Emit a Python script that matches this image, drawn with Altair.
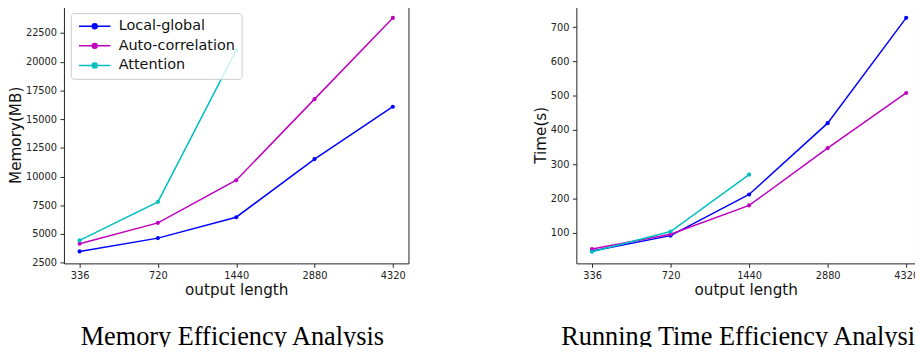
import altair as alt
import pandas as pd

lengths = ["336", "720", "1440", "2880", "4320"]
series = ["Local-global", "Auto-correlation", "Attention"]
colors = ["#0000ff", "#bf00bf", "#00bfbf"]

mem_local = [3480, 4640, 6460, 11520, 16080]
mem_auto = [4150, 5970, 9680, 16740, 23810]
mem_attn = [4450, 7800, 21000]

time_local = [47, 92, 212, 420, 727]
time_auto = [53, 96, 180, 347, 508]
time_attn = [45, 104, 270]

mem_ticks = [2500, 5000, 7500, 10000, 12500, 15000, 17500, 20000, 22500]
time_ticks = [100, 200, 300, 400, 500, 600, 700]


def frame(vals_list):
    rows = []
    for name, vals in zip(series, vals_list):
        for i, v in enumerate(vals):
            rows.append({"series": name, "idx": i, "value": v})
    return pd.DataFrame(rows)


label_expr = "[" + ",".join(f"'{l}'" for l in lengths) + "][datum.value]"
legend_symbol = "M-1,0H5.4M2.7,0A0.5,0.5,0,1,1,1.7,0A0.5,0.5,0,1,1,2.7,0Z"


def panel(df, ytitle, ydomain, yticks, xdomain, width, title, anchor, dx):
    color = alt.Color(
        "series:N",
        scale=alt.Scale(domain=series, range=colors),
        legend=alt.Legend(
            title=None, orient="none", legendX=7, legendY=7,
            symbolType=legend_symbol,
            symbolSize=100, symbolStrokeWidth=1.5,
            labelFontSize=14.7, labelFont="DejaVu Sans", labelColor="#111",
            labelOffset=28,
            fillColor="rgba(255,255,255,0.8)", strokeColor="#cccccc",
            padding=6, rowPadding=4, cornerRadius=3,
        ),
    )
    base = alt.Chart(df).encode(
        x=alt.X("idx:Q",
                scale=alt.Scale(domain=xdomain, nice=False, zero=False),
                axis=alt.Axis(values=[0, 1, 2, 3, 4], labelExpr=label_expr,
                              title="output length")),
        y=alt.Y("value:Q",
                scale=alt.Scale(domain=ydomain, nice=False, zero=False),
                axis=alt.Axis(values=yticks, title=ytitle, format="d")),
        color=color,
        order="idx:Q",
    )
    lines = base.mark_line(strokeWidth=1.5)
    pts = base.mark_circle(size=18, opacity=1)
    return alt.layer(lines, pts).properties(
        width=width, height=262,
        title=alt.TitleParams(title, orient="bottom", anchor=anchor, frame="group",
                              font="Liberation Serif", fontSize=26.8,
                              fontWeight="normal", color="#000", offset=27, dx=dx),
    )


left = panel(frame([mem_local, mem_auto, mem_attn]), "Memory(MB)",
             [2440, 24830], mem_ticks, [-0.2, 4.2], 351,
             "Memory Efficiency Analysis", "middle", -4)
right = panel(frame([time_local, time_auto, time_attn]), "Time(s)",
              [11, 761], time_ticks, [-0.2, 4.1125], 345,
              "Running Time Efficiency Analysi", "end", 0)

chart = alt.hconcat(left, right, spacing=125).properties(
    padding={"left": 0, "top": -6, "right": -5, "bottom": -8}
).configure_view(
    stroke="#222", strokeWidth=1
).configure_axis(
    grid=False, domain=False, tickColor="#222", tickSize=4,
    labelFont="DejaVu Sans", labelFontSize=10, labelColor="#222", labelPadding=3.5,
    titleFont="DejaVu Sans", titleFontSize=15.5, titleFontWeight="normal",
    titleColor="#111", titlePadding=2,
)

chart.save("out.html", embed_options={"renderer": "svg", "actions": False})
